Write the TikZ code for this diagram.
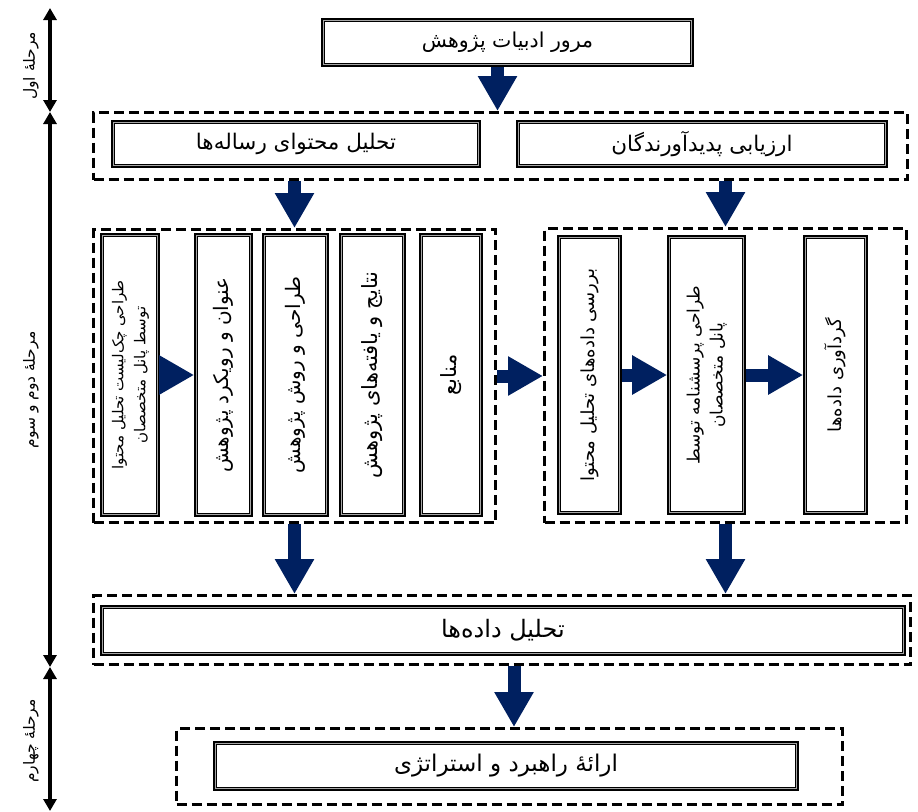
\documentclass[tikz,border=0pt]{standalone}
\usepackage{fontspec}
\newfontfamily\fa[Script=Arabic]{DejaVu Sans}
\TeXXeTstate=1
\usetikzlibrary{arrows.meta}
\definecolor{navyarrow}{HTML}{002060}
\newcommand\rl[1]{\beginR #1\endR}
\begin{document}
\begin{tikzpicture}[x=1pt,y=-1pt,
  box/.style={draw=black, line width=4.2pt, fill=white, inner sep=0pt, font=\fa\fontsize{20}{24}\selectfont},
  fsz/.style 2 args={font=\fa\fontsize{#1}{#2}\selectfont},
  group/.style={draw=black, line width=3pt, dash pattern=on 10pt off 5pt, inner sep=0pt},
  fat/.style={draw=navyarrow, line width=13pt, -{Triangle[width=37pt,length=35pt]}},
  axis/.style={draw=black, line width=3.5pt, {Triangle[width=13pt,length=12pt]}-{Triangle[width=13pt,length=12pt]}},
  phase/.style={rotate=90, font=\fa\fontsize{15.5}{18}\selectfont, inner sep=0pt}
]
\useasboundingbox (0,0) rectangle (918,811);
\fill[white] (0,0) rectangle (918,811);

% dashed groups
\node[group, minimum width=814, minimum height=67] (g1) at (500.5,146) {};
\node[group, minimum width=402, minimum height=293] (lg) at (294.5,376) {};
\node[group, minimum width=362, minimum height=294] (rg) at (725.5,375.5) {};
\node[group, minimum width=817, minimum height=69] (g3) at (502,630) {};
\node[group, minimum width=666, minimum height=76] (g4) at (509.5,766.5) {};

% boxes
\node[box, fsz={20.5}{24}, minimum width=368.5, minimum height=44.5] (top) at (507.5,42.5) {\rl{مرور ادبیات پژوهش}};
\node[box, fsz={21.5}{25}, minimum width=365.5, minimum height=43.5] (b1) at (296,144) {\rl{تحلیل محتوای رساله‌ها}};
\node[box, fsz={21.5}{25}, minimum width=367.5, minimum height=43.5] (b2) at (702,144) {\rl{ارزیابی پدیدآورندگان}};

\node[box, fsz={15}{22}, minimum width=55.5, minimum height=279.5] (l1) at (130,375) {\rotatebox{90}{\begin{tabular}{@{}c@{}}\rl{طراحی چک‌لیست تحلیل محتوا}\\\rl{توسط پانل متخصصان}\end{tabular}}};
\node[box, minimum width=54.5, minimum height=279.5] (l2) at (223.5,375) {\rotatebox{90}{\rl{عنوان و رویکرد پژوهش}}};
\node[box, minimum width=62.5, minimum height=279.5] (l3) at (295.5,375) {\rotatebox{90}{\rl{طراحی و روش پژوهش}}};
\node[box, fsz={21}{24}, minimum width=62.5, minimum height=279.5] (l4) at (372.5,375) {\rotatebox{90}{\rl{نتایج و یافته‌های پژوهش}}};
\node[box, fsz={21}{24}, minimum width=59.5, minimum height=279.5] (l5) at (451,375) {\rotatebox{90}{\rl{منابع}}};

\node[box, fsz={18}{22}, minimum width=60.5, minimum height=275.5] (r1) at (589.5,375) {\rotatebox{90}{\rl{بررسی داده‌های تحلیل محتوا}}};
\node[box, fsz={17}{23}, minimum width=74.5, minimum height=275.5] (r2) at (706.5,375) {\rotatebox{90}{\begin{tabular}{@{}c@{}}\rl{طراحی پرسشنامه توسط}\\\rl{پانل متخصصان}\end{tabular}}};
\node[box, fsz={18}{22}, minimum width=60.5, minimum height=275.5] (r3) at (835.5,375) {\rotatebox{90}{\rl{گردآوری داده‌ها}}};

\node[box, fsz={24}{28}, minimum width=801.5, minimum height=46.5] (d) at (503,630.5) {\rl{تحلیل داده‌ها}};
\node[box, fsz={23}{27}, minimum width=581.5, minimum height=45.5] (s) at (506,766) {\rl{ارائهٔ راهبرد و استراتژی}};

% inner gray lines
\foreach \n in {top,b1,b2,l1,l2,l3,l4,l5,r1,r2,r3,d,s}
  \draw[gray!70, line width=0.9pt] ([shift={(2.6pt,2.6pt)}]\n.south west) rectangle ([shift={(-2.6pt,-2.6pt)}]\n.north east);

% arrows
\draw[fat] ([xshift=-10pt]top.south) -- ([xshift=-10pt]top.south |- g1.north);
\draw[fat] (g1.south -| lg.north) -- (lg.north);
\draw[fat] (g1.south -| rg.north) -- (rg.north);
\draw[fat] (l1.east) -- (l2.west);
\draw[fat] (lg.east) -- (lg.east -| rg.west);
\draw[fat] (r1.east) -- (r2.west);
\draw[fat] (r2.east) -- (r3.west);
\draw[fat] (lg.south) -- (lg.south |- g3.north);
\draw[fat] (rg.south) -- (rg.south |- g3.north);
\draw[fat] ([xshift=4.5pt]g4.north |- g3.south) -- ([xshift=4.5pt]g4.north);

% phase axis
\coordinate (a0) at (50,8);
\coordinate (a1) at (50,112);
\coordinate (a2) at (50,667);
\coordinate (a3) at (50,811);
\draw[axis] (a0) -- (a1);
\draw[axis] (a1) -- (a2);
\draw[axis] (a2) -- (a3);
\node[phase] (p1) at (31,66) {\rl{مرحلهٔ اول}};
\node[phase] (p2) at (31,390) {\rl{مرحلهٔ دوم و سوم}};
\node[phase] (p3) at (31,741) {\rl{مرحلهٔ چهارم}};
\end{tikzpicture}
\end{document}
